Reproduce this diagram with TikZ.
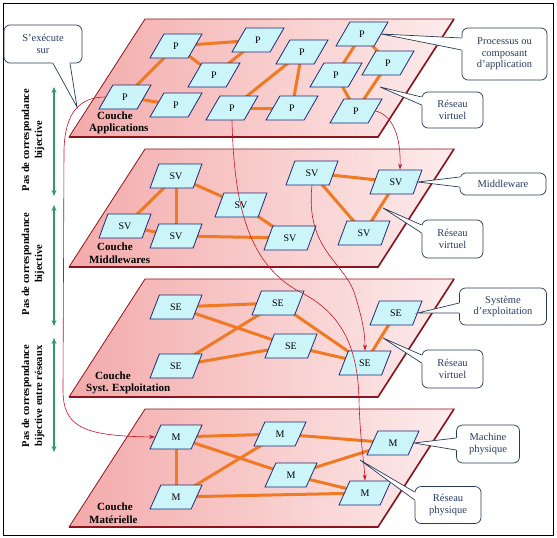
\documentclass[tikz,border=0pt]{standalone}
\usepackage{fontspec}
\setmainfont{Liberation Serif}
\usetikzlibrary{shapes.geometric,arrows.meta,calc}
\pgfdeclarelayer{planes}
\pgfdeclarelayer{links}
\pgfsetlayers{planes,links,main}
\definecolor{nodefill}{RGB}{204,245,250}
\definecolor{nodeline}{RGB}{30,40,120}
\definecolor{edgeor}{RGB}{240,122,36}
\definecolor{layline}{RGB}{140,20,30}
\definecolor{laydark}{RGB}{243,170,170}
\definecolor{laylight}{RGB}{253,236,236}
\definecolor{curvered}{RGB}{200,20,40}
\definecolor{arrgreen}{RGB}{50,150,110}
\definecolor{calltext}{RGB}{40,60,100}
\definecolor{callline}{RGB}{40,60,90}
\newcommand\calltip[3]{%
  \fill[white] ($#1!-1.5pt!#3$) -- #3 -- ($#2!-1.5pt!#3$) -- cycle;
  \draw[callline,line width=0.7pt] #1 -- #3 -- #2;}
\begin{document}
\begin{tikzpicture}[x=1pt,y=-1pt,
  plane/.style={left color=laydark,right color=laylight,draw=layline,line width=0.8pt},
  proc/.style={trapezium,trapezium left angle=64,trapezium right angle=116,trapezium stretches=true,
    minimum width=52pt,minimum height=24pt,inner sep=0pt,draw=nodeline,fill=nodefill,line width=0.8pt,
    font=\fontsize{10}{11}\selectfont},
  link/.style={edgeor,line width=3pt},
  redcurve/.style={curvered,line width=0.6pt,-{Stealth[length=6pt,width=4pt]}},
  garrow/.style={arrgreen,line width=1.6pt,{Stealth[length=6pt,width=5pt]}-{Stealth[length=6pt,width=5pt]}},
  callbox/.style={draw=callline,fill=white,rounded corners=6pt,line width=0.7pt,align=center,
    text=calltext,inner sep=1pt,font=\fontsize{10.5}{11.5}\selectfont},
  laylabel/.style={align=left,anchor=west,inner sep=0pt,font=\bfseries\fontsize{11}{12.5}\selectfont},
  sidelabel/.style={rotate=90,align=center,inner sep=0pt,font=\bfseries\fontsize{10.5}{13}\selectfont}]
\useasboundingbox (0,0) rectangle (557,538);

% planes
\begin{pgfonlayer}{planes}
\fill[white] (0,0) rectangle (557,538);
\foreach \t in {19,149,279,409}{
  \path[plane] (145,\t) -- (454,\t) -- (378,\t+118) -- (69,\t+118) -- cycle;
  \draw[layline,line width=1.6pt] (454,\t) -- (378,\t+118) -- (69,\t+118);
}
\end{pgfonlayer}
\draw[line width=1pt] (3.5,3.5) rectangle (553.5,535.5);

% layer labels
\node[laylabel] (lab1) at (89,123) {\hspace*{8pt}Couche\\Applications};
\node[laylabel] (lab2) at (89,253) {\hspace*{8pt}Couche\\Middlewares};
\node[laylabel] (lab3) at (86,383) {\hspace*{9pt}Couche\\Syst. Exploitation};
\node[laylabel] (lab4) at (89,513) {\hspace*{8pt}Couche\\Matérielle};

% layer 1
\node[proc] (P1) at (176,46) {P};
\node[proc] (P2) at (258,40) {P};
\node[proc] (P3) at (214,75) {P};
\node[proc] (P4) at (125,97) {P};
\node[proc] (P5) at (176,105) {P};
\node[proc] (P6) at (232,108) {P};
\node[proc] (P7) at (292,108) {P};
\node[proc] (P8) at (302,52) {P};
\node[proc] (P9) at (336,75) {P};
\node[proc] (P10) at (362,34) {P};
\node[proc] (P11) at (388,63) {P};
\node[proc] (P12) at (356,111) {P};
% layer 2
\node[proc] (S1) at (176,176) {SV};
\node[proc] (S2) at (125,226) {SV};
\node[proc] (S3) at (176,236) {SV};
\node[proc] (S4) at (241,205) {SV};
\node[proc] (S5) at (290,238) {SV};
\node[proc] (S6) at (312,173) {SV};
\node[proc] (S7) at (396,182) {SV};
\node[proc] (S8) at (364,233) {SV};
% layer 3
\node[proc] (E1) at (176,307) {SE};
\node[proc] (E2) at (278,303) {SE};
\node[proc] (E3) at (291,346) {SE};
\node[proc] (E4) at (176,366) {SE};
\node[proc] (E5) at (365,363) {SE};
\node[proc] (E6) at (396,313) {SE};
% layer 4
\node[proc] (M1) at (176,437) {M};
\node[proc] (M2) at (280,434) {M};
\node[proc] (M3) at (393,443) {M};
\node[proc] (M4) at (291,475) {M};
\node[proc] (M5) at (176,497) {M};
\node[proc] (M6) at (365,493) {M};

\begin{pgfonlayer}{links}
\foreach \a/\b in {P1/P2,P1/P4,P1/P3,P2/P3,P4/P5,P6/P7,P6/P8,P8/P7,P10/P9,P10/P11,P9/P12,P11/P12,
  S1/S2,S1/S3,S1/S4,S2/S3,S4/S5,S3/S5,S6/S7,S6/S8,S7/S8,
  E1/E2,E1/E3,E4/E2,E4/E3,E2/E5,E3/E5,E6/E5,
  M1/M2,M1/M4,M5/M2,M1/M5,M5/M6,M2/M3,M4/M3,M4/M6}
  \draw[link] (\a.center) -- (\b.center);
\end{pgfonlayer}

% callouts
\coordinate (t1) at (77,107);
\coordinate (t3) at (380,87);
\coordinate (t5) at (383,208);
\coordinate (t7) at (383,338);
\coordinate (t9) at (360,460);
\node[callbox,minimum width=78pt,minimum height=38pt] (c1) at (43,44) {S’exécute\\sur};
\calltip{([xshift=10pt]c1.south)}{([xshift=27pt]c1.south)}{(t1)}
\node[callbox,minimum width=85pt,minimum height=52pt] (c2) at (504.5,54) {Processus ou\\composant\\d’application};
\calltip{([yshift=16pt]c2.west)}{([yshift=4pt]c2.west)}{(P10.east)}
\node[callbox,minimum width=61pt,minimum height=36pt] (c3) at (452.5,110) {Réseau\\virtuel};
\calltip{([yshift=13pt]c3.west)}{([yshift=5pt]c3.west)}{(t3)}
\node[callbox,minimum width=86pt,minimum height=22pt] (c4) at (503,184) {Middleware};
\calltip{([yshift=7pt]c4.west)}{([yshift=-3pt]c4.west)}{(S7.east)}
\node[callbox,minimum width=61pt,minimum height=38pt] (c5) at (452.5,239) {Réseau\\virtuel};
\calltip{([yshift=14pt]c5.west)}{([yshift=6pt]c5.west)}{(t5)}
\node[callbox,minimum width=87pt,minimum height=37pt] (c6) at (503,306.5) {Système\\d’exploitation};
\calltip{([yshift=3.5pt]c6.west)}{([yshift=-6.5pt]c6.west)}{(E6.east)}
\node[callbox,minimum width=61pt,minimum height=38pt] (c7) at (452.5,369) {Réseau\\virtuel};
\calltip{([yshift=14pt]c7.west)}{([yshift=6pt]c7.west)}{(t7)}
\node[callbox,minimum width=63pt,minimum height=38pt] (c8) at (488,444) {Machine\\physique};
\calltip{([yshift=6pt]c8.west)}{([yshift=-6pt]c8.west)}{(M3.east)}
\node[callbox,minimum width=66pt,minimum height=37pt] (c9) at (448,505) {Réseau\\physique};
\calltip{([yshift=13pt]c9.west)}{([yshift=5pt]c9.west)}{(t9)}

% red mapping curves
\draw[redcurve] (P4.west) .. controls (80,97) and (65,112) .. (64,150) -- (63,390)
  .. controls (63,428) and (85,436) .. (M1.west);
\draw[redcurve] (P6.south) .. controls (234,210) and (250,265) .. (300,292)
  .. controls (340,312) and (358,345) .. (359,400) .. controls (360,440) and (364,460) .. (M6.north);
\draw[redcurve] (S6.south) .. controls (305,250) and (345,262) .. (355,295)
  .. controls (362,318) and (365,332) .. (E5.north);
\draw[redcurve] (P12.east) .. controls (392,115) and (401,135) .. ([xshift=4pt]S7.north);

% green arrows and side labels
\coordinate (g1a) at (54,87);  \coordinate (g1b) at (54,196);
\coordinate (g2a) at (54,205); \coordinate (g2b) at (54,326);
\coordinate (g3a) at (54,338); \coordinate (g3b) at (54,452);
\draw[garrow] (g1a) -- (g1b);
\draw[garrow] (g2a) -- (g2b);
\draw[garrow] (g3a) -- (g3b);
\node[sidelabel] (s1) at (33,140) {Pas de correspondance\\bijective};
\node[sidelabel] (s2) at (33,264) {Pas de correspondance\\bijective};
\node[sidelabel] (s3) at (33,396) {Pas de correspondance\\bijective entre réseaux};
\end{tikzpicture}
\end{document}
